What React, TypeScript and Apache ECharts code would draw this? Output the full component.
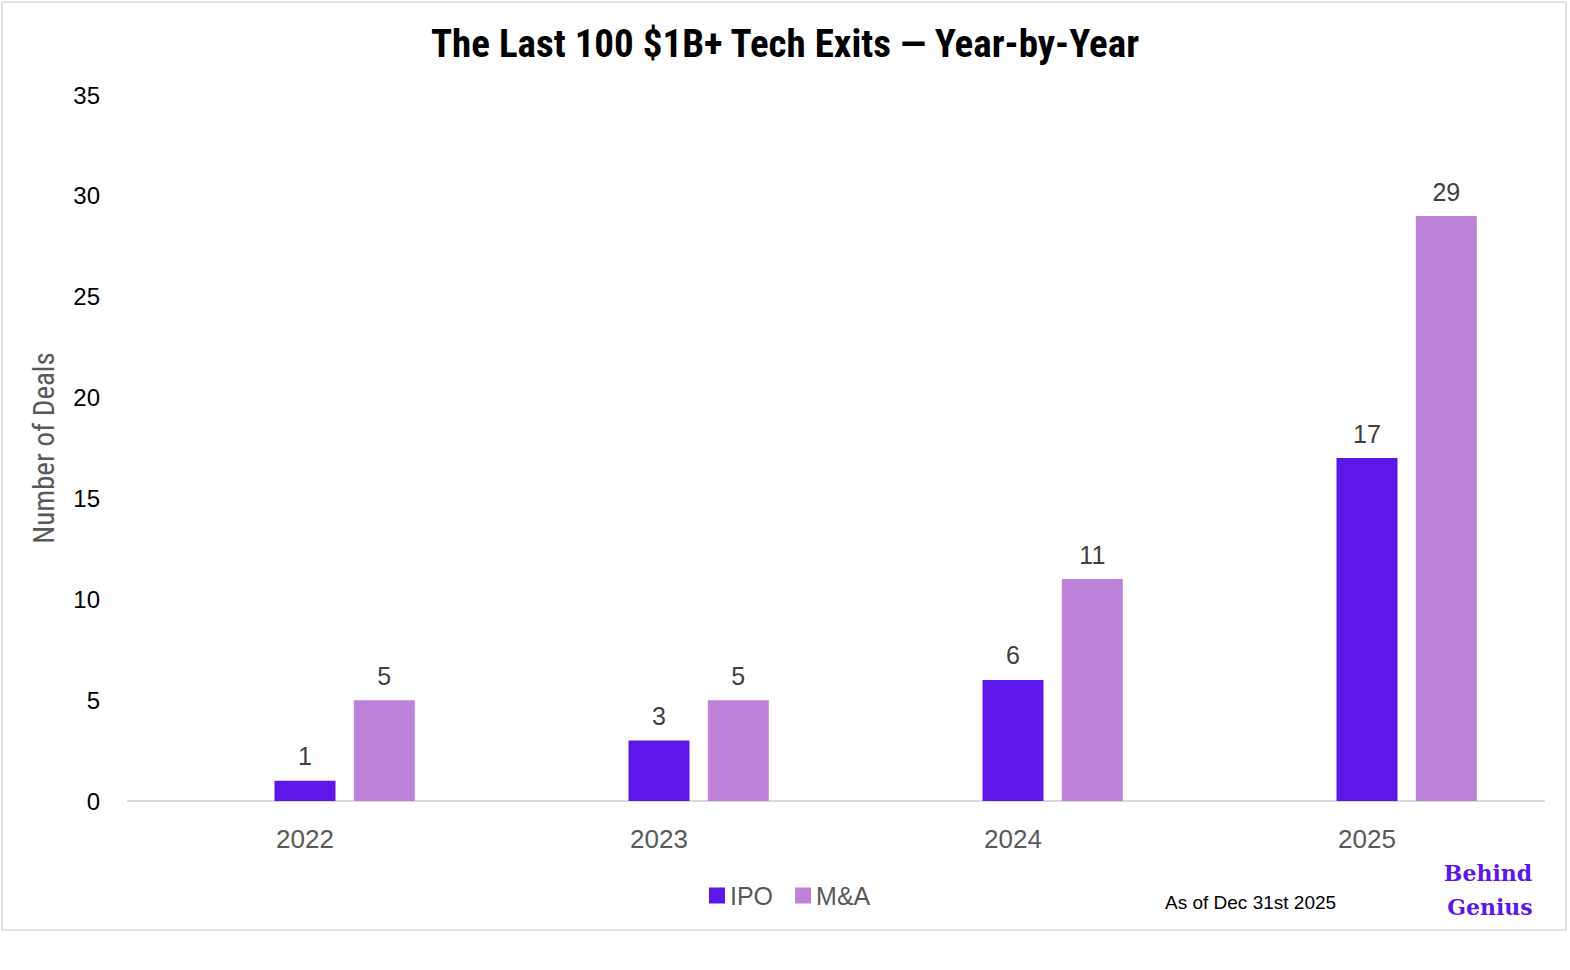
import React, { useEffect, useRef } from "react";
import * as echarts from "echarts";

const years = ["2022", "2023", "2024", "2025"];
const ipo = [1, 3, 6, 17];
const ma = [5, 5, 11, 29];
const spacer = [null, null, null, null];
const yTicks = { min: 0, max: 35, interval: 5 };

export default function App() {
  const ref = useRef<HTMLDivElement>(null);
  useEffect(() => {
    const chart = echarts.init(ref.current!, null, { renderer: "svg" });
    const labelStyle = {
      show: true,
      position: "top",
      distance: 12,
      fontSize: 25,
      color: "#404040",
      fontFamily: "Liberation Sans, Arial, sans-serif",
    };
    chart.setOption({
      animation: false,
      backgroundColor: "#ffffff",
      title: {
        text: "The Last 100 $1B+ Tech Exits — Year-by-Year",
        left: "center",
        top: 19,
        textStyle: {
          fontFamily: "Liberation Sans Narrow, Roboto Condensed, sans-serif",
          fontWeight: "bold",
          fontSize: 39,
          color: "#000000",
        },
      },
      grid: { left: 128, right: 26, top: 95, bottom: 169 },
      legend: {
        data: ["IPO", "M&A"],
        left: 704,
        top: 878,
        itemWidth: 16,
        itemHeight: 16,
        itemGap: 22,
        icon: "rect",
        textStyle: {
          fontSize: 25,
          color: "#595959",
          fontFamily: "Liberation Sans, Arial, sans-serif",
        },
      },
      xAxis: {
        type: "category",
        data: years,
        axisLine: { show: true, lineStyle: { color: "#d9d9d9", width: 2 } },
        axisTick: { show: false },
        axisLabel: {
          fontSize: 26,
          color: "#595959",
          margin: 25,
          fontFamily: "Liberation Sans, Arial, sans-serif",
        },
      },
      yAxis: {
        type: "value",
        min: yTicks.min,
        max: yTicks.max,
        interval: yTicks.interval,
        name: "Number of Deals",
        nameLocation: "middle",
        nameRotate: 90,
        nameGap: 70,
        nameTextStyle: {
          fontSize: 29,
          color: "#595959",
          fontFamily: "Liberation Sans Narrow, Roboto Condensed, sans-serif",
        },
        axisLine: { show: false },
        axisTick: { show: false },
        splitLine: { show: false },
        axisLabel: {
          fontSize: 24,
          color: "#000000",
          margin: 28,
          fontFamily: "Liberation Sans, Arial, sans-serif",
        },
      },
      series: [
        {
          name: "spacer",
          type: "bar",
          data: spacer,
          barWidth: 61,
          barGap: "30%",
          itemStyle: { color: "transparent" },
        },
        {
          name: "IPO",
          type: "bar",
          data: ipo,
          barWidth: 61,
          barGap: "30%",
          itemStyle: { color: "#5D17E9" },
          label: labelStyle,
        },
        {
          name: "M&A",
          type: "bar",
          data: ma,
          barWidth: 61,
          barGap: "30%",
          itemStyle: { color: "#BE83D8" },
          label: labelStyle,
        },
      ],
      graphic: [
        {
          type: "rect",
          shape: { x: 2, y: 2, width: 1564, height: 928 },
          style: { fill: "none", stroke: "#d9d9d9", lineWidth: 1.5 },
          silent: true,
        },
        {
          type: "text",
          x: 1165,
          y: 902,
          style: {
            text: "As of Dec 31st 2025",
            fontSize: 19,
            fill: "#000000",
            fontFamily: "Liberation Sans, Arial, sans-serif",
            verticalAlign: "middle",
            textAlign: "left",
          },
        },
        {
          type: "text",
          x: 1488,
          y: 873,
          style: {
            text: "Behind",
            fontSize: 22,
            fontWeight: "bold",
            fill: "#5B18E8",
            fontFamily: "DejaVu Serif, serif",
            verticalAlign: "middle",
            textAlign: "center",
          },
        },
        {
          type: "text",
          x: 1490,
          y: 907,
          style: {
            text: "Genius",
            fontSize: 22,
            fontWeight: "bold",
            fill: "#5B18E8",
            fontFamily: "DejaVu Serif, serif",
            verticalAlign: "middle",
            textAlign: "center",
          },
        },
      ],
    });
    return () => chart.dispose();
  }, []);
  return (
    <div
      ref={ref}
      style={{ position: "absolute", left: 0, top: 0, width: 1570, height: 970 }}
    />
  );
}
